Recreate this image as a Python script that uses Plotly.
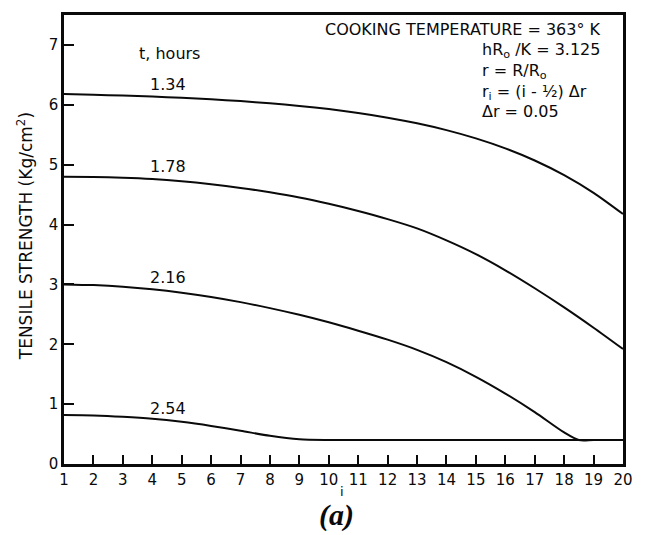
import plotly.graph_objects as go

# ---- data ----
i_vals = list(range(1, 21))
t_labels = ["1.34", "1.78", "2.16", "2.54"]

s_134 = [6.180, 6.168, 6.154, 6.137, 6.117, 6.092, 6.062, 6.025, 5.981, 5.928,
         5.863, 5.785, 5.691, 5.577, 5.439, 5.272, 5.070, 4.825, 4.529, 4.175]
s_178 = [4.800, 4.794, 4.782, 4.760, 4.724, 4.674, 4.612, 4.538, 4.451, 4.346,
         4.226, 4.091, 3.936, 3.736, 3.506, 3.236, 2.936, 2.616, 2.276, 1.920]
i_216 = list(range(1, 19)) + [18.5, 19, 20]
s_216 = [3.000, 2.988, 2.962, 2.920, 2.862, 2.790, 2.704, 2.604, 2.492, 2.367,
         2.227, 2.077, 1.907, 1.702, 1.457, 1.177, 0.867, 0.527, 0.400, 0.400, 0.400]
s_254 = [0.820, 0.812, 0.790, 0.757, 0.705, 0.636, 0.556, 0.470, 0.412, 0.400,
         0.400, 0.400, 0.400, 0.400, 0.400, 0.400, 0.400, 0.400, 0.400, 0.400]

x_ticks = list(range(1, 21))
y_ticks = list(range(0, 8))

# label anchor positions (data units)
label_i = [4.54, 4.54, 4.54, 4.54]
label_s = [6.34, 4.975, 3.115, 0.92]

FONT = "DejaVu Sans"
INK = "#0a0a0a"

fig = go.Figure()
series = [(i_vals, s_134), (i_vals, s_178), (i_216, s_216), (i_vals, s_254)]
for (xs, ys), name in zip(series, t_labels):
    fig.add_trace(go.Scatter(x=xs, y=ys, mode="lines", name=name,
                             line=dict(color=INK, width=2, shape="spline", smoothing=0.8),
                             showlegend=False, hoverinfo="skip"))

for txt, xi, yi in zip(t_labels, label_i, label_s):
    fig.add_annotation(x=xi, y=yi, xref="x", yref="y", text=txt, showarrow=False,
                       font=dict(family=FONT, size=16, color=INK),
                       xanchor="center", yanchor="middle")

fig.add_annotation(x=4.6, y=6.85, xref="x", yref="y", text="t, hours", showarrow=False,
                   font=dict(family=FONT, size=16, color=INK),
                   xanchor="center", yanchor="middle")

fig.add_annotation(x=0.9649, y=0.968, xref="paper", yref="paper",
                   text="COOKING TEMPERATURE = 363° K", showarrow=False,
                   font=dict(family=FONT, size=16, color=INK),
                   xanchor="right", yanchor="middle")
info_lines = ["hR<sub>o</sub> /K = 3.125", "r = R/R<sub>o</sub>",
              "r<sub>i</sub> = (i - ½) Δr", "Δr = 0.05"]
fig.add_annotation(x=0.7434, y=0.854, xref="paper", yref="paper",
                   text="<br>".join(info_lines), align="left",
                   showarrow=False, font=dict(family=FONT, size=16, color=INK),
                   xanchor="left", yanchor="middle")

# axis titles
fig.add_annotation(x=-0.0703, y=0.5066, xref="paper", yref="paper",
                   text="TENSILE STRENGTH (Kg/cm<sup>2</sup>)", textangle=-90,
                   showarrow=False, font=dict(family=FONT, size=17, color=INK),
                   xanchor="center", yanchor="middle")
fig.add_annotation(x=0.497, y=-0.062, xref="paper", yref="paper", text="i",
                   showarrow=False, font=dict(family=FONT, size=13, color=INK),
                   xanchor="center", yanchor="middle")
fig.add_annotation(x=0.488, y=-0.113, xref="paper", yref="paper", text="<b><i>(a)</i></b>",
                   showarrow=False, font=dict(family="Liberation Serif", size=30, color=INK),
                   xanchor="center", yanchor="middle")

axis_common = dict(showline=True, linewidth=2.5, linecolor=INK, mirror=True,
                   showgrid=False, zeroline=False, ticks="inside", tickcolor=INK,
                   tickwidth=1.5, tickfont=dict(family=FONT, size=15, color=INK))
fig.update_xaxes(range=[1, 20], tickvals=x_ticks, ticklen=9, **axis_common)
fig.update_yaxes(range=[0, 7.5], tickvals=y_ticks, ticklen=10, **axis_common)

fig.update_layout(width=645, height=535, margin=dict(l=64, r=12, t=12, b=71),
                  paper_bgcolor="white", plot_bgcolor="white")

fig.write_html("out.html")
